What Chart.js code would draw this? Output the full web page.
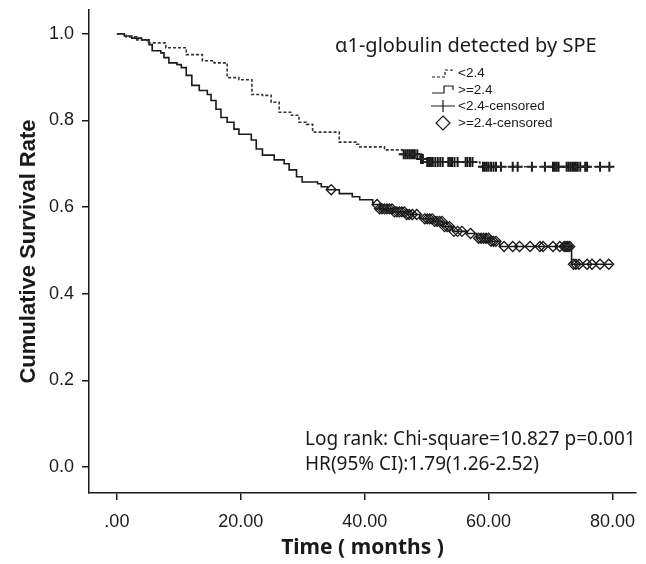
<!DOCTYPE html>
<html>
<head>
<meta charset="utf-8">
<script src="https://cdn.jsdelivr.net/npm/chart.js@4/dist/chart.umd.min.js"></script>
<style>
  html, body { margin: 0; padding: 0; background: #fff; }
  #wrap { width: 646px; height: 564px; }
</style>
</head>
<body>
<div id="wrap"><canvas id="km"></canvas></div>
<script>
// survival steps, <2.4 group (time in months, cumulative survival after the step)
const lowTimes = [0, 1.5, 3.2, 4.9, 7.9, 11.2, 13.8, 15.7, 17.8, 19.7, 21.8, 23.5, 24.9, 26.2, 28.2, 29.4, 30.6, 31.6, 35.9, 38.7, 39.2, 43.2, 46.1, 48.9, 49.7, 58.6, 80];
const lowSurv  = [1.0, 0.993, 0.986, 0.979, 0.968, 0.952, 0.938, 0.933, 0.899, 0.894, 0.860, 0.858, 0.842, 0.819, 0.812, 0.796, 0.791, 0.773, 0.750, 0.745, 0.739, 0.732, 0.722, 0.711, 0.704, 0.693, 0.693];

// survival steps, >=2.4 group
const highTimes = [0, 1.2, 2.4, 4.0, 5.2, 5.7, 7.1, 7.6, 8.4, 9.7, 10.4, 11.2, 12.1, 13.3, 14.6, 15.2, 16.0, 16.8, 17.8, 18.9, 19.7, 21.7, 22.5, 23.5, 25.4, 27.0, 27.8, 29.0, 29.9, 32.4, 33.0, 34.0, 35.9, 38.0, 39.2, 41.3, 42.4, 44.5, 46.8, 48.9, 51.0, 52.6, 54.2, 56.5, 58.1, 60.2, 61.8, 73.4, 80];
const highSurv  = [1.0, 0.995, 0.990, 0.986, 0.975, 0.961, 0.956, 0.945, 0.933, 0.929, 0.922, 0.904, 0.881, 0.869, 0.860, 0.846, 0.826, 0.807, 0.796, 0.780, 0.768, 0.755, 0.734, 0.720, 0.709, 0.700, 0.686, 0.670, 0.658, 0.654, 0.647, 0.640, 0.631, 0.624, 0.617, 0.606, 0.596, 0.589, 0.583, 0.573, 0.567, 0.555, 0.544, 0.539, 0.528, 0.521, 0.509, 0.468, 0.468];

// censored times
const lowCensored = [46.3, 46.6, 46.9, 47.2, 47.5, 47.8, 48.1, 48.5, 49.1, 49.4, 50.1, 50.4, 50.7, 51.0, 51.4, 51.8, 52.2, 52.6, 53.5, 53.8, 54.1, 54.5, 55.0, 56.3, 56.6, 57.0, 57.4, 59.1, 59.4, 59.7, 60.0, 60.4, 60.8, 61.2, 62.0, 63.9, 64.7, 67.0, 69.1, 70.4, 70.7, 71.0, 71.3, 72.6, 72.9, 73.2, 73.5, 73.8, 74.1, 74.4, 74.8, 75.6, 75.9, 78.0, 79.5];
const highCensored = [34.6, 42.0, 42.4, 42.8, 43.2, 43.6, 44.0, 44.4, 44.8, 45.2, 45.6, 46.0, 46.4, 46.8, 47.2, 47.7, 48.4, 49.7, 50.1, 50.5, 50.9, 51.3, 51.7, 52.1, 52.5, 52.9, 53.3, 53.7, 54.4, 55.0, 55.7, 57.1, 58.4, 58.8, 59.2, 59.6, 60.0, 60.4, 60.8, 61.2, 62.5, 63.9, 65.0, 66.7, 68.3, 68.8, 70.4, 71.5, 72.2, 72.5, 72.8, 73.1, 73.7, 74.1, 74.6, 75.9, 76.7, 78.0, 79.4];

const xTicks = [0, 20, 40, 60, 80];
const yTicks = [0, 0.2, 0.4, 0.6, 0.8, 1.0];
const legendTitle = 'α1-globulin detected by SPE';
const legendLabels = ['<2.4', '>=2.4', '<2.4-censored', '>=2.4-censored'];
const statLines = ['Log rank: Chi-square=10.827 p=0.001', 'HR(95% CI):1.79(1.26-2.52)'];

function toPoints(ts, ss) {
  return ts.map(function (t, i) { return {x: t, y: ss[i]}; });
}
// survival value at a censored time = last step at or before it
function survAt(ts, ss, c) {
  let s = ss[0];
  for (let i = 0; i < ts.length; i++) { if (ts[i] <= c) s = ss[i]; }
  return s;
}
function censorPoints(cs, ts, ss) {
  return cs.map(function (c) { return {x: c, y: survAt(ts, ss, c)}; });
}

const ink = '#1a1a1a';
const narrow = '"Liberation Sans Narrow", "Liberation Sans", Arial, sans-serif';

// legend box + stats text
const annotate = {
  id: 'annotate',
  afterDraw(chart) {
    const ctx = chart.ctx;
    ctx.save();
    ctx.fillStyle = ink;
    ctx.strokeStyle = ink;
    ctx.textBaseline = 'middle';
    ctx.font = '20px "Noto Sans", sans-serif';
    ctx.fillText(legendTitle, 335, 46);

    ctx.font = '13.5px "Liberation Sans", Arial, sans-serif';
    const ys = [73, 90, 106, 123];
    legendLabels.forEach(function (lab, i) { ctx.fillText(lab, 458, ys[i]); });

    ctx.lineWidth = 1.2;
    // dashed step
    ctx.setLineDash([3, 2]);
    ctx.beginPath();
    ctx.moveTo(432, 77); ctx.lineTo(445, 77); ctx.lineTo(445, 70); ctx.lineTo(452, 70); ctx.lineTo(452, 73);
    ctx.stroke();
    ctx.setLineDash([]);
    // solid step
    ctx.beginPath();
    ctx.moveTo(432, 93); ctx.lineTo(444, 93); ctx.lineTo(444, 86); ctx.lineTo(453, 86); ctx.lineTo(453, 90);
    ctx.stroke();
    // plus
    ctx.beginPath();
    ctx.moveTo(431, 106); ctx.lineTo(455, 106);
    ctx.moveTo(443, 100); ctx.lineTo(443, 112);
    ctx.stroke();
    // diamond
    ctx.beginPath();
    ctx.moveTo(443, 116); ctx.lineTo(450, 123); ctx.lineTo(443, 130); ctx.lineTo(436, 123); ctx.closePath();
    ctx.stroke();

    ctx.font = '19px "Noto Sans", sans-serif';
    ctx.fillText(statLines[0], 305, 440);
    ctx.fillText(statLines[1], 305, 465);
    ctx.restore();
  }
};

function zeroPad(scale) {
  scale.paddingTop = 0; scale.paddingBottom = 0;
  scale.paddingLeft = 0; scale.paddingRight = 0;
}

new Chart(document.getElementById('km'), {
  type: 'scatter',
  data: {
    datasets: [
      { label: '<2.4', data: toPoints(lowTimes, lowSurv), showLine: true, stepped: true,
        borderColor: '#333', borderWidth: 1.6, borderDash: [3, 2], pointRadius: 0 },
      { label: '>=2.4', data: toPoints(highTimes, highSurv), showLine: true, stepped: true,
        borderColor: ink, borderWidth: 1.6, pointRadius: 0 },
      { label: '<2.4-censored', data: censorPoints(lowCensored, lowTimes, lowSurv),
        pointStyle: 'cross', pointRadius: 5, borderColor: ink, borderWidth: 2 },
      { label: '>=2.4-censored', data: censorPoints(highCensored, highTimes, highSurv),
        pointStyle: 'rectRot', pointRadius: 5, borderColor: ink, borderWidth: 1.3,
        backgroundColor: 'rgba(255,255,255,0)' }
    ]
  },
  options: {
    responsive: true,
    maintainAspectRatio: false,
    animation: false,
    layout: { padding: { top: 10, right: 10, left: 0, bottom: 0 } },
    plugins: { legend: { display: false }, tooltip: { enabled: false } },
    scales: {
      x: {
        type: 'linear', min: -4.5, max: 83.8,
        afterBuildTicks(scale) { scale.ticks = xTicks.map(function (v) { return {value: v}; }); },
        afterFit(scale) { scale.height = 71; zeroPad(scale); },
        ticks: { color: ink, padding: 11, font: { family: narrow, size: 18 },
          callback: function (v) { return v === 0 ? '.00' : v.toFixed(2); } },
        grid: { drawOnChartArea: false, tickLength: 7, color: ink, lineWidth: 1.5 },
        border: { display: true, color: ink, width: 1.5 },
        title: { display: true, text: 'Time ( months )', color: ink,
          font: { family: '"Noto Sans", sans-serif', size: 21, weight: 'bold' },
          padding: { top: 0, bottom: 3 } }
      },
      y: {
        min: -0.06, max: 1.055,
        afterBuildTicks(scale) { scale.ticks = yTicks.map(function (v) { return {value: v}; }); },
        afterFit(scale) { scale.width = 89; zeroPad(scale); },
        ticks: { color: ink, padding: 8, font: { family: '"Liberation Sans", Arial, sans-serif', size: 18 },
          callback: function (v) { return v.toFixed(1); } },
        grid: { drawOnChartArea: false, tickLength: 7, color: ink, lineWidth: 1.5 },
        border: { display: true, color: ink, width: 1.5 },
        title: { display: true, text: 'Cumulative Survival Rate', color: ink,
          font: { family: '"Liberation Sans", Arial, sans-serif', size: 22, weight: 'bold' },
          padding: { top: 16, bottom: 0 } }
      }
    }
  },
  plugins: [annotate]
});
</script>
</body>
</html>
